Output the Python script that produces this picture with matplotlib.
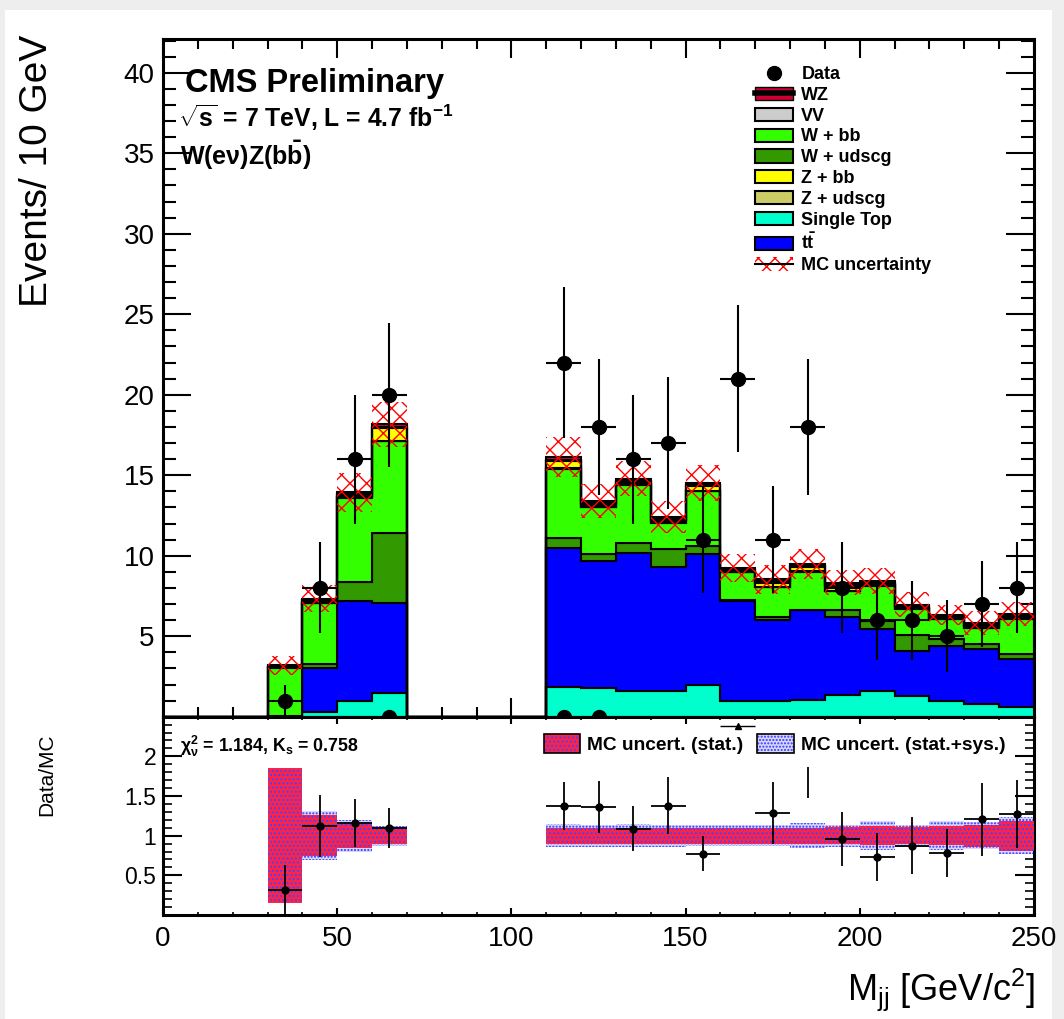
import numpy as np
import matplotlib.pyplot as plt
from matplotlib.patches import Patch, Rectangle
from matplotlib.lines import Line2D
from matplotlib.ticker import MultipleLocator

plt.rcParams['font.family'] = ['Liberation Sans', 'DejaVu Sans']
plt.rcParams['mathtext.fontset'] = 'custom'
plt.rcParams['mathtext.rm'] = 'Liberation Sans'
plt.rcParams['mathtext.it'] = 'Liberation Sans:italic'
plt.rcParams['mathtext.bf'] = 'Liberation Sans:bold'
plt.rcParams['hatch.linewidth'] = 1.0

# 10 GeV bins from 0 to 250 (25 bins)
edges = np.arange(0, 260, 10)
centers = edges[:-1] + 5

# stacked MC, bottom to top
single_top = [0, 0, 0, 0.00, 0.27, 0.96, 1.48, 0, 0, 0, 0, 1.86, 1.80, 1.58, 1.58, 1.94, 0.96, 0.96, 1.06, 1.33, 1.58, 1.27, 1.00, 0.81, 0.60]
ttbar      = [0, 0, 0, 0.05, 2.73, 6.21, 5.56, 0, 0, 0, 0, 8.64, 7.87, 8.62, 7.72, 8.16, 6.24, 5.04, 5.54, 4.87, 3.86, 2.83, 3.40, 3.38, 3.00]
w_udscg    = [0, 0, 0, 0.00, 0.30, 1.18, 4.36, 0, 0, 0, 0, 0.60, 0.43, 0.60, 1.10, 0.50, 0.05, 0.20, 0.05, 0.40, 0.52, 1.00, 0.45, 0.31, 0.27]
w_bb       = [0, 0, 0, 3.00, 3.76, 5.25, 5.70, 0, 0, 0, 0, 4.30, 2.90, 3.60, 1.66, 3.40, 1.73, 1.84, 2.35, 1.20, 2.19, 1.60, 1.21, 0.98, 2.23]
z_udscg    = [0, 0, 0, 0.02, 0.03, 0.03, 0.03, 0, 0, 0, 0, 0.03, 0.03, 0.03, 0.03, 0.03, 0.03, 0.03, 0.03, 0.03, 0.03, 0.03, 0.03, 0.03, 0.03]
z_bb       = [0, 0, 0, 0.00, 0.05, 0.10, 0.80, 0, 0, 0, 0, 0.45, 0.15, 0.15, 0.14, 0.30, 0.05, 0.26, 0.25, 0.30, 0.05, 0.05, 0.05, 0.12, 0.05]
vv         = [0, 0, 0, 0.05, 0.08, 0.08, 0.08, 0, 0, 0, 0, 0.08, 0.08, 0.08, 0.08, 0.08, 0.08, 0.08, 0.08, 0.08, 0.08, 0.08, 0.08, 0.08, 0.08]
wz         = [0, 0, 0, 0.08, 0.12, 0.12, 0.15, 0, 0, 0, 0, 0.15, 0.12, 0.12, 0.12, 0.12, 0.10, 0.12, 0.12, 0.12, 0.10, 0.10, 0.10, 0.10, 0.10]
mc_unc     = [0, 0, 0, 0.60, 0.85, 1.20, 1.40, 0, 0, 0, 0, 1.25, 1.05, 1.10, 1.00, 1.10, 0.87, 0.90, 0.95, 0.80, 0.80, 0.77, 0.65, 0.75, 0.75]

data = [0, 0, 0, 1, 8, 16, 20, 0, 0, 0, 0, 22, 18, 16, 17, 11, 21, 11, 18, 8, 6, 6, 5, 7, 8]
zero_x = [65, 115, 125]

# ratio panel
ratio_x   = [35, 45, 55, 65, 115, 125, 135, 145, 155, 175, 195, 205, 215, 225, 235, 245]
ratio_val = [0.31, 1.12, 1.16, 1.10, 1.375, 1.36, 1.09, 1.38, 0.77, 1.29, 0.96, 0.73, 0.875, 0.78, 1.21, 1.27]
ratio_err = [0.32, 0.39, 0.30, 0.25, 0.30, 0.33, 0.28, 0.36, 0.22, 0.39, 0.34, 0.30, 0.36, 0.30, 0.46, 0.43]
odd_hbar = (165, 2.38)
odd_vbar = (185, 1.47, 1.86)
stat_band = [0, 0, 0, 0.85, 0.26, 0.15, 0.11, 0, 0, 0, 0, 0.10, 0.10, 0.10, 0.10, 0.10, 0.10, 0.10, 0.10, 0.11, 0.12, 0.11, 0.12, 0.14, 0.19]
syst_band = [0, 0, 0, 0.85, 0.31, 0.20, 0.125, 0, 0, 0, 0, 0.145, 0.14, 0.145, 0.14, 0.13, 0.13, 0.13, 0.16, 0.14, 0.18, 0.14, 0.18, 0.17, 0.235]

components = [
    ('Single Top', single_top, '#00ffcc'),
    ('tt', ttbar, '#0000ff'),
    ('W + udscg', w_udscg, '#339900'),
    ('W + bb', w_bb, '#33ff00'),
    ('Z + udscg', z_udscg, '#cccc66'),
    ('Z + bb', z_bb, '#ffff00'),
    ('VV', vv, '#cccccc'),
    ('WZ', wz, '#cc0033'),
]

W, H = 1064, 1019
fig = plt.figure(figsize=(W / 100, H / 100), dpi=100)
fig.patch.set_facecolor('#eeeeee')
fig.add_artist(Rectangle((5 / W, 0), 1047 / W, 1 - 10 / H, transform=fig.transFigure,
                         fc='white', ec='none', zorder=-10))

ax = fig.add_axes([163 / W, 1 - 716.7 / H, 871 / W, 677.7 / H])
axr = fig.add_axes([163 / W, 1 - 915 / H, 871 / W, 198.3 / H])

# stack
bottom = np.zeros(25)
for name, vals, col in components:
    vals = np.array(vals)
    ax.stairs(bottom + vals, edges, baseline=bottom, fill=True, facecolor=col,
              edgecolor='black', lw=1.5, zorder=2)
    bottom = bottom + vals
total = bottom
unc = np.array(mc_unc)
ax.stairs(total + unc, edges, baseline=total - unc, fill=True, facecolor='none',
          edgecolor='red', hatch='xx', lw=0, zorder=3)

data = np.array(data, dtype=float)
m = data > 0
ax.errorbar(centers[m], data[m], yerr=np.sqrt(data[m]), xerr=5, fmt='o', color='black',
            ms=10, elinewidth=1.5, capsize=0, zorder=5)
ax.plot(zero_x, np.zeros(len(zero_x)), 'o', color='black', ms=10, zorder=5, clip_on=True)

ax.set_xlim(0, 250)
ax.set_ylim(0, 42.1)
ax.set_yticks([5, 10, 15, 20, 25, 30, 35, 40])
ax.xaxis.set_major_locator(MultipleLocator(50))
ax.xaxis.set_minor_locator(MultipleLocator(10))
ax.yaxis.set_minor_locator(MultipleLocator(1))
ax.tick_params(axis='x', which='both', direction='in', top=True, bottom=True, labelbottom=False)
ax.tick_params(axis='x', which='major', length=14, width=1.5)
ax.tick_params(axis='x', which='minor', length=7, width=1.5)
ax.tick_params(axis='y', which='both', direction='in', left=True, right=True, labelsize=20, pad=6)
ax.tick_params(axis='y', which='major', length=20, width=1.5)
ax.tick_params(axis='y', which='minor', length=9.5, width=1.5)
for s in ax.spines.values():
    s.set_linewidth(2.2)

# legend
legend_handles = [
    Line2D([], [], marker='o', color='black', ls='none', ms=10),
    (Patch(fc='#cc0033', ec='black', lw=1), Line2D([], [], color='black', lw=4)),
    Patch(fc='#cccccc', ec='black', lw=1.5),
    Patch(fc='#33ff00', ec='black', lw=1.5),
    Patch(fc='#339900', ec='black', lw=1.5),
    Patch(fc='#ffff00', ec='black', lw=1.5),
    Patch(fc='#cccc66', ec='black', lw=1.5),
    Patch(fc='#00ffcc', ec='black', lw=1.5),
    Patch(fc='#0000ff', ec='black', lw=1.5),
    (Patch(fc='none', ec='red', hatch='xx', lw=0), Line2D([], [], color='black', lw=1.5)),
]
legend_labels = ['Data', 'WZ', 'VV', 'W + bb', 'W + udscg', 'Z + bb', 'Z + udscg',
                 'Single Top', r'$\mathbf{t\bar{t}}$', 'MC uncertainty']
ax.legend(legend_handles, legend_labels, loc='upper left', bbox_to_anchor=(0.68, 0.96),
          frameon=False, prop={'weight': 'bold', 'size': 13}, handlelength=2.1,
          handleheight=0.75, handletextpad=0.45, labelspacing=0.21, borderpad=0,
          borderaxespad=0)

# ratio panel
sb = np.array(stat_band)
yb = np.array(syst_band)
axr.stairs(1 + yb, edges, baseline=1 - yb, fill=True, facecolor='#d8d8ff', edgecolor='#3333ff',
           hatch='.....', lw=0, zorder=2)
axr.stairs(1 + sb, edges, baseline=1 - sb, fill=True, facecolor='#ff2244', edgecolor='#4444ff',
           hatch='....', lw=0, zorder=3)
axr.errorbar(ratio_x, ratio_val, yerr=ratio_err, xerr=5, fmt='o', color='black', ms=5,
             elinewidth=1.3, capsize=0, zorder=5)
axr.errorbar([odd_hbar[0]], [odd_hbar[1]], xerr=5, fmt='^', color='black', ms=4,
             elinewidth=1.0, capsize=0, zorder=5)
axr.vlines(odd_vbar[0], odd_vbar[1], odd_vbar[2], color='black', lw=1.3, zorder=5)

axr.set_xlim(0, 250)
axr.set_ylim(0, 2.5)
axr.set_yticks([0.5, 1, 1.5, 2])
axr.set_yticklabels(['0.5', '1', '1.5', '2'])
axr.xaxis.set_major_locator(MultipleLocator(50))
axr.xaxis.set_minor_locator(MultipleLocator(10))
axr.yaxis.set_minor_locator(MultipleLocator(0.1))
axr.tick_params(axis='x', which='both', direction='in', top=True, bottom=True, labelsize=20, pad=8)
axr.tick_params(axis='x', which='major', length=5, width=1.5)
axr.tick_params(axis='x', which='minor', length=2.5, width=1.2)
axr.tick_params(axis='y', which='both', direction='in', left=True, right=True, labelsize=16.5, pad=5)
axr.tick_params(axis='y', which='major', length=14, width=1.5)
axr.tick_params(axis='y', which='minor', length=6.5, width=1.2)
for s in axr.spines.values():
    s.set_linewidth(2.2)

band_handles = [
    (Patch(fc='#ff2244', ec='#4444ff', hatch='....', lw=0), Patch(fc='none', ec='black', lw=1.2)),
    (Patch(fc='#d8d8ff', ec='#3333ff', hatch='.....', lw=0), Patch(fc='none', ec='black', lw=1.2)),
]
axr.legend(band_handles, ['MC uncert. (stat.)', 'MC uncert. (stat.+sys.)'], ncol=2,
           loc='upper left', bbox_to_anchor=(0.437, 0.913), frameon=False,
           prop={'weight': 'bold', 'size': 13.8}, handlelength=1.9, handleheight=1.15,
           handletextpad=0.35, columnspacing=0.75, borderpad=0, borderaxespad=0)

axr.text(180 / W, 1 - 752 / H, r'$\mathbf{\chi^2_\nu}$ = 1.184, K$_\mathbf{s}$ = 0.758',
         transform=fig.transFigure, fontsize=12.8, weight='bold', va='baseline')

# labels and annotations
fig.text(185 / W, 1 - 92 / H, 'CMS Preliminary', fontsize=23.5, weight='bold', va='baseline')
fig.text(178 / W, 1 - 127 / H, r'$\sqrt{\mathbf{s}}$ = 7 TeV, L = 4.7 fb$^{\mathbf{-1}}$',
         fontsize=17.8, weight='bold', va='baseline')
fig.text(180 / W, 1 - 165 / H, r'W(e$\mathbf{\nu}$)Z(b$\mathbf{\bar{b}}$)', fontsize=18,
         weight='bold', va='baseline')
fig.text(37 / W, 1 - 35 / H, 'Events/ 10 GeV', rotation=90, ha='center', va='top', fontsize=28)
fig.text(47 / W, 1 - 733 / H, 'Data/MC', rotation=90, ha='center', va='top', fontsize=15)
fig.text(1035 / W, 1 - 1000 / H, r'M$_{\mathrm{jj}}$ [GeV/c$^{2}$]', ha='right', va='baseline',
         fontsize=26)

fig.savefig('out.png', dpi=100, facecolor=fig.get_facecolor())
